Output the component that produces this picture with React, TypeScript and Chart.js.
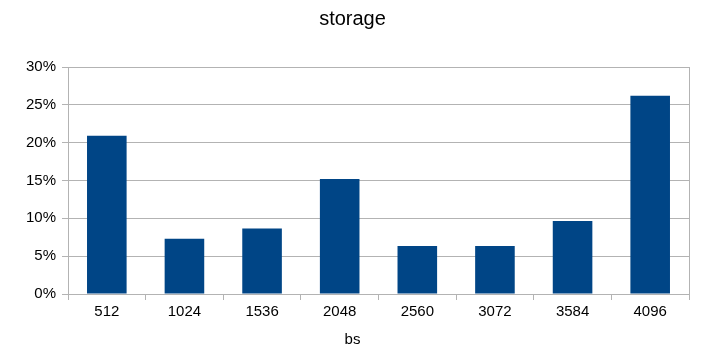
import React, { useEffect, useRef } from "react";
import { Chart, registerables } from "chart.js";

Chart.register(...registerables);

const categories = ["512", "1024", "1536", "2048", "2560", "3072", "3584", "4096"];
const storageValues = [20.9, 7.3, 8.65, 15.2, 6.35, 6.35, 9.65, 26.2];
const yTicks = [0, 5, 10, 15, 20, 25, 30];

const GRID = "#b3b3b3";
const FONT = "'Liberation Sans', Arial, sans-serif";

export default function App() {
  const ref = useRef<HTMLCanvasElement | null>(null);
  useEffect(() => {
    if (!ref.current) return;
    const chart = new Chart(ref.current, {
      type: "bar",
      data: {
        labels: categories,
        datasets: [
          {
            label: "storage",
            data: storageValues,
            backgroundColor: "#004586",
            borderWidth: 0,
            barPercentage: 0.51,
            categoryPercentage: 1,
          },
        ],
      },
      options: {
        animation: false,
        responsive: false,
        maintainAspectRatio: false,
        layout: { padding: { top: 7, right: 0, bottom: 0, left: 0 } },
        plugins: {
          legend: { display: false },
          tooltip: { enabled: false },
          title: {
            display: true,
            text: "storage",
            color: "#000",
            font: { family: FONT, size: 20, weight: "normal" },
            padding: { top: 0, bottom: 36 },
          },
          subtitle: {
            display: true,
            position: "bottom",
            text: "bs",
            color: "#000",
            font: { family: FONT, size: 15, weight: "normal" },
            padding: { top: 9, bottom: 8 },
          },
        },
        scales: {
          x: {
            offset: true,
            grid: {
              offset: true,
              drawOnChartArea: true,
              color: (ctx: any) => (ctx.type === "scale" ? GRID : "rgba(0,0,0,0)"),
              tickColor: GRID,
              tickLength: 6,
            },
            border: { display: true, color: GRID },
            ticks: {
              color: "#000",
              font: { family: FONT, size: 15 },
              padding: 3,
              maxRotation: 0,
            },
            afterFit: (scale: any) => {
              scale.height = 28;
            },
          },
          y: {
            min: 0,
            max: 30,
            afterBuildTicks: (scale: any) => {
              scale.ticks = yTicks.map((v) => ({ value: v }));
            },
            grid: { color: GRID, tickColor: GRID, tickLength: 6 },
            border: { display: true, color: GRID },
            ticks: {
              color: "#000",
              font: { family: FONT, size: 15 },
              padding: 6,
              callback: (v: any) => v + "%",
            },
            afterFit: (scale: any) => {
              scale.width = 68;
            },
          },
          yR: {
            type: "linear",
            position: "right",
            display: true,
            grid: { display: false },
            border: { display: false },
            ticks: { display: false },
            afterFit: (scale: any) => {
              scale.width = 16;
            },
          },
        },
      },
    });
    return () => chart.destroy();
  }, []);
  return (
    <div style={{ position: "fixed", left: 0, top: 0, width: 705, height: 357, background: "#fff" }}>
      <canvas ref={ref} width={705} height={357} style={{ width: 705, height: 357, display: "block" }} />
    </div>
  );
}
